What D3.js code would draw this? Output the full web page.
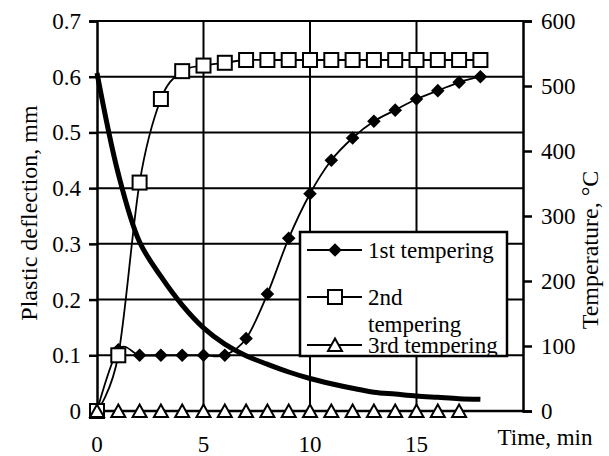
<!DOCTYPE html>
<html><head><meta charset="utf-8">
<script src="https://cdn.jsdelivr.net/npm/d3@7"></script>
<style>
body{margin:0;background:#fff}
</style>
</head><body>
<svg id="c" width="609" height="456"></svg>
<script>
// ---- data ----
const times = [0,1,2,3,4,5,6,7,8,9,10,11,12,13,14,15,16,17,18];
const first  = [0,0.11,0.10,0.10,0.10,0.10,0.10,0.13,0.21,0.31,0.39,0.45,0.49,0.52,0.54,0.56,0.575,0.59,0.60];
const second = [0,0.10,0.41,0.56,0.61,0.62,0.625,0.63,0.63,0.63,0.63,0.63,0.63,0.63,0.63,0.63,0.63,0.63,0.63];
const times3 = [0,1,2,3,4,5,6,7,8,9,10,11,12,13,14,15,16,17];
const third  = [0,0,0,0,0,0,0,0,0,0,0,0,0,0,0,0,0,0];
const tempTimes = [0,1,2,3,4,5,6,7,8,9,10,11,12,13,14,15,16,17,18];
const temps = [520,365,260,207,163,128,103,85,72,60,50,42,35,29,26,23,21,19,18];
const leftTicks = [0,0.1,0.2,0.3,0.4,0.5,0.6,0.7];
const rightTicks = [0,100,200,300,400,500,600];
const xTicks = [0,5,10,15];
const xGrid = [5,10,15];
const legendNames = [["1st tempering"],["2nd","tempering"],["3rd tempering"]];

// ---- layout ----
const L=97, R=523, T=21, B=411;
const FS=23;
const FONT = '"Liberation Serif"';
const svg = d3.select("#c");
const x = d3.scaleLinear().domain([0,20]).range([L,R]);
const y = d3.scaleLinear().domain([0,0.7]).range([B,T]);
const y2 = d3.scaleLinear().domain([0,600]).range([B,T]);

function label(px,py,str,anchor,rot,fs){
  const g = svg.append("g").attr("transform",`translate(${px},${py}) rotate(${rot||0})`);
  g.append("text").attr("text-anchor",anchor||"start").style("font-family",FONT)
    .style("font-size",(fs||FS)+"px").attr("fill","#000").text(str);
  return g;
}

// gridlines
svg.append("g").selectAll("line").data(leftTicks.filter(d=>d>0)).join("line")
  .attr("x1",L).attr("x2",R).attr("y1",d=>y(d)).attr("y2",d=>y(d))
  .attr("stroke","#000").attr("stroke-width",2);
svg.append("g").selectAll("line").data(xGrid).join("line")
  .attr("x1",d=>x(d)).attr("x2",d=>x(d)).attr("y1",T).attr("y2",B)
  .attr("stroke","#000").attr("stroke-width",2);

// axes
const axL = d3.axisLeft(y).tickValues(leftTicks).tickSize(8).tickFormat("");
svg.append("g").attr("transform",`translate(${L},0)`).call(axL)
  .call(g=>g.selectAll("line,path").attr("stroke","#000").attr("stroke-width",2.5));
const axR = d3.axisRight(y2).tickValues(rightTicks).tickSize(9).tickFormat("");
svg.append("g").attr("transform",`translate(${R},0)`).call(axR)
  .call(g=>g.selectAll("line,path").attr("stroke","#000").attr("stroke-width",2.5));
svg.append("line").attr("x1",L).attr("x2",R).attr("y1",B).attr("y2",B).attr("stroke","#000").attr("stroke-width",2.5);

// tick labels
leftTicks.forEach(d=>label(L-16,y(d)+8,d===0?"0":d.toFixed(1),"end"));
rightTicks.forEach(d=>label(R+18,y2(d)+8,String(d),"start"));
xTicks.forEach(d=>label(x(d),452,String(d),"middle"));
label(545,445,"Time, min","middle");
label(37,213,"Plastic deflection, mm","middle",-90,24);
label(598,250,"Temperature, °C","middle",-90,24);

// temperature curve
const tLine = d3.line().x((d,i)=>x(tempTimes[i])).y(d=>y2(d)).curve(d3.curveCatmullRom.alpha(0.5));
svg.append("path").attr("d",tLine(temps)).attr("fill","none").attr("stroke","#000").attr("stroke-width",5);

// series
const sLine = (xs)=>d3.line().x((d,i)=>x(xs[i])).y(d=>y(d)).curve(d3.curveCatmullRom.alpha(0));
function drawMarker(g, type, cx, cy){
  if(type==="diamond"){
    g.append("path").attr("d",d3.symbol().type(d3.symbolSquare).size(92)())
      .attr("transform",`translate(${cx},${cy}) rotate(45)`).attr("fill","#000");
  } else if(type==="square"){
    g.append("rect").attr("x",cx-7).attr("y",cy-7).attr("width",14).attr("height",14)
      .attr("fill","#fff").attr("stroke","#000").attr("stroke-width",2);
  } else {
    g.append("path").attr("d",`M${cx},${cy-6.5}L${cx+7},${cy+6}L${cx-7},${cy+6}Z`)
      .attr("fill","#fff").attr("stroke","#000").attr("stroke-width",2);
  }
}
const series = [
  {xs:times, vals:first, type:"diamond"},
  {xs:times, vals:second, type:"square"},
  {xs:times3, vals:third, type:"triangle"}
];
series.forEach(s=>{
  svg.append("path").attr("d",sLine(s.xs)(s.vals)).attr("fill","none").attr("stroke","#000").attr("stroke-width",1.8);
});
series.forEach(s=>{
  const g = svg.append("g");
  s.vals.forEach((v,i)=>drawMarker(g,s.type,x(s.xs[i]),y(v)));
});

// legend
const LX=300, LY=232, LW=207, LH=124;
svg.append("defs").append("clipPath").attr("id","lc").append("rect")
  .attr("x",LX).attr("y",LY).attr("width",LW).attr("height",LH);
const lg = svg.append("g");
lg.append("rect").attr("x",LX).attr("y",LY).attr("width",LW).attr("height",LH)
  .attr("fill","#fff").attr("stroke","none");
const inner = lg.append("g").attr("clip-path","url(#lc)");
const rowsY = [250,297,345];
series.forEach((s,i)=>{
  const cy = rowsY[i];
  inner.append("line").attr("x1",LX+7).attr("x2",LX+62).attr("y1",cy).attr("y2",cy).attr("stroke","#000").attr("stroke-width",1.8);
  drawMarker(inner,s.type,LX+35,cy);
  legendNames[i].forEach((t,j)=>{
    inner.append("text").attr("x",LX+68).attr("y",cy+8+j*27)
      .style("font-family",FONT).style("font-size",FS+"px").attr("fill","#000").text(t);
  });
});
lg.append("rect").attr("x",LX).attr("y",LY).attr("width",LW).attr("height",LH)
  .attr("fill","none").attr("stroke","#000").attr("stroke-width",2.5);
</script>
</body></html>
